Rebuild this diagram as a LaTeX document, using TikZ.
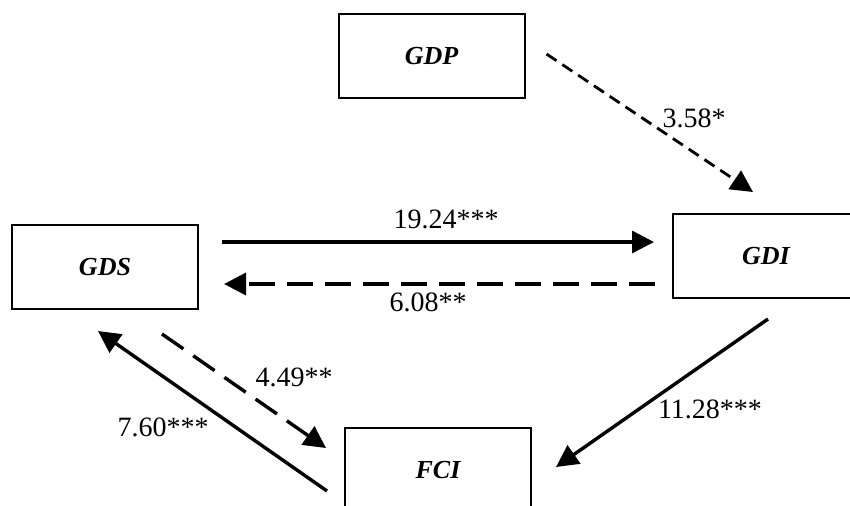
\documentclass[tikz,border=0pt]{standalone}
\usepackage{fontspec}
\setmainfont{Liberation Serif}
\usetikzlibrary{arrows.meta, positioning, calc}
\tikzset{
  box/.style={
    draw,
    rectangle,
    line width=1pt,
    minimum width=93pt,
    minimum height=42pt,
    font=\fontsize{13}{15}\selectfont\bfseries\itshape,
  },
  arrow/.style={
    -{Triangle[length=11pt,width=11pt]},
    line width=1.7pt
  },
  dasharrow/.style={
    arrow,
    dash pattern=on 13pt off 6pt
  },
  finedasharrow/.style={
    arrow,
    line width=1.4pt,
    dash pattern=on 6pt off 3.5pt
  },
  coef/.style={
    font=\fontsize{14}{16}\selectfont,
    inner sep=0pt
  }
}

\begin{document}
\begin{tikzpicture}[x=0.5pt,y=-0.5pt]
\clip (0,0) rectangle (850,505);

% --- Variables ---
\node[box] (gdp) at (431.5,56) {GDP};
\node[box] (gds) at (105,267) {GDS};
\node[box] (gdi) at (766,256) {GDI};
\node[box] (fci) at (438,470) {FCI};

% --- Causal links ---
\draw[finedasharrow] ($(gdp.east)+(21,-2)$) -- ($(gdi.north)+(-13,-21)$);
\draw[arrow] ($(gds.east)+(23,-25)$) -- ($(gdi.west)+(-18,-14)$);
\draw[dasharrow] ($(gdi.west)+(-17,28)$) -- ($(gds.east)+(25,17)$);
\draw[dasharrow] ($(gds.south)+(57,24)$) -- ($(fci.west)+(-18,-22)$);
\draw[arrow] ($(fci.west)+(-17,21)$) -- ($(gds.south)+(-7,21)$);
\draw[arrow] ($(gdi.south)+(2,20)$) -- ($(fci.east)+(24,-3)$);

% --- Test statistics ---
\node[coef] (c1) at (694,118) {3.58*};
\node[coef] (c2) at (446,219) {19.24***};
\node[coef] (c3) at (428,302) {6.08**};
\node[coef] (c4) at (294,377) {4.49**};
\node[coef] (c5) at (163,427) {7.60***};
\node[coef] (c6) at (710,409) {11.28***};

\end{tikzpicture}
\end{document}
